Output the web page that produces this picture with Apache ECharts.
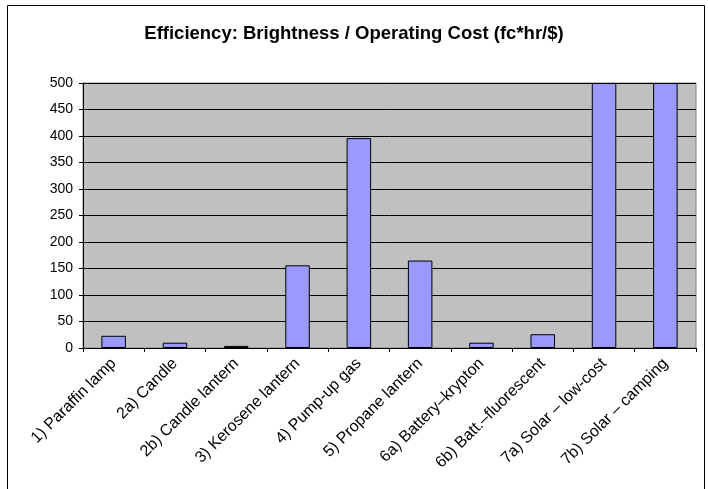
<!DOCTYPE html>
<html>
<head>
<meta charset="utf-8">
<script src="https://cdn.jsdelivr.net/npm/echarts@6/dist/echarts.min.js"></script>
<style>html,body{margin:0;padding:0;background:#fff;}#c{width:708px;height:489px;}</style>
</head>
<body>
<div id="c"></div>
<script>
const categories = ["1) Paraffin lamp","2a) Candle","2b) Candle lantern","3) Kerosene lantern","4) Pump-up gas","5) Propane lantern","6a) Battery\u2013krypton","6b) Batt.\u2013fluorescent","7a) Solar \u2013 low-cost","7b) Solar \u2013 camping"];
const values = [23, 10, 4, 156, 396, 165, 10, 26, 500, 500];
const yTicks = [0, 50, 100, 150, 200, 250, 300, 350, 400, 450, 500];
const titleText = "Efficiency: Brightness / Operating Cost (fc*hr/$)";

const font = "Arial, 'Liberation Sans', sans-serif";
const chart = echarts.init(document.getElementById('c'), null, {renderer: 'canvas'});
chart.setOption({
  animation: false,
  backgroundColor: '#fff',
  title: {
    text: titleText, left: 'center', top: 19,
    textStyle: {fontFamily: font, fontSize: 18.5, fontWeight: 'bold', color: '#000'}
  },
  graphic: [{
    type: 'rect', shape: {x: 7.5, y: 5.5, width: 697, height: 500},
    style: {fill: 'none', stroke: '#000', lineWidth: 1}, silent: true
  }],
  grid: {left: 83, right: 12, top: 83, bottom: 141, show: true,
         backgroundColor: '#c0c0c0', borderColor: '#808080', borderWidth: 1},
  xAxis: {
    type: 'category', data: categories,
    axisLine: {lineStyle: {color: '#000', width: 1}},
    axisTick: {show: true, length: 4, lineStyle: {color: '#000'}},
    axisLabel: {rotate: 45, fontFamily: font, fontSize: 16, color: '#000', margin: 13, interval: 0}
  },
  yAxis: {
    type: 'value', min: yTicks[0], max: yTicks[yTicks.length-1], interval: 50,
    axisLine: {show: true, lineStyle: {color: '#000', width: 1}},
    axisTick: {show: true, length: 4, lineStyle: {color: '#000'}},
    axisLabel: {fontFamily: font, fontSize: 14, color: '#000', margin: 10},
    splitLine: {lineStyle: {color: '#000', width: 1}}
  },
  series: [{
    type: 'bar', data: values, barCategoryGap: '60%',
    itemStyle: {color: '#9999ff', borderColor: '#000', borderWidth: 1}
  }]
});
</script>
</body>
</html>
